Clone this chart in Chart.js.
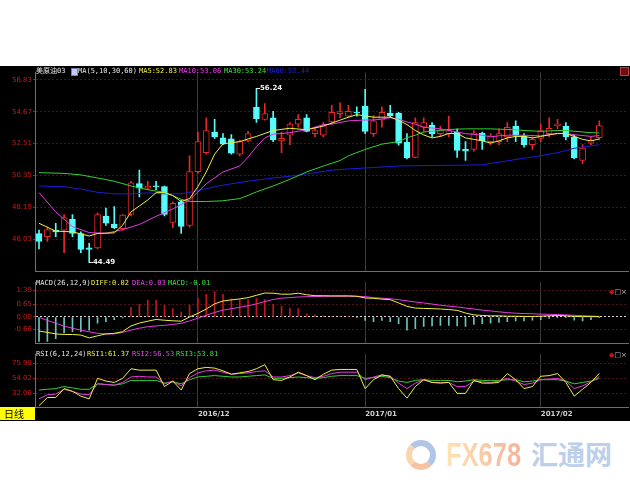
<!DOCTYPE html>
<html>
<head>
<meta charset="utf-8">
<script src="https://cdn.jsdelivr.net/npm/chart.js@4.4.0/dist/chart.umd.min.js"></script>
<style>
    html, body { margin: 0; padding: 0; background: #fff; width: 630px; height: 490px; overflow: hidden; }
    #board { position: absolute; left: 0; top: 66px; width: 630px; height: 355px; background: #000; }
    .pane { position: absolute; left: 0; width: 630px; }
    .txt { position: absolute; font-family: "DejaVu Sans Mono", "Noto Sans CJK SC", monospace; font-size: 7px; line-height: 8px; white-space: nowrap; z-index: 5; }
    .icons { position: absolute; left: 609px; font-family: "DejaVu Sans", sans-serif; font-size: 7px; line-height: 8px; z-index: 5; white-space: nowrap; }
    #dayBox { position: absolute; left: 0; top: 407px; width: 31px; height: 13px; padding-left: 4px; background: #ffff00; color: #000; font-family: "Noto Sans CJK SC", sans-serif; font-size: 10px; line-height: 13px; z-index: 5; }
    #logo .fx { position: absolute; left: 446px; top: 437px; font-family: "Liberation Sans", sans-serif; font-weight: bold; font-size: 34px; line-height: 34px; transform: scaleX(0.75); transform-origin: left top; background: linear-gradient(90deg, #fde4b4, #f6b29a); -webkit-background-clip: text; background-clip: text; color: transparent; }
    #logo .cn { position: absolute; left: 531px; top: 440px; font-family: "Noto Sans CJK SC", sans-serif; font-weight: bold; font-size: 27px; line-height: 27px; color: #bcd0ea; }
    #logo .swirl { position: absolute; left: 406px; top: 440px; width: 18px; height: 18px; border-radius: 50%; border: 6px solid; border-color: #b0c6e4 #b0c6e4 #f6c3a2 #f8d6b0; }
</style>
</head>
<body>
<div id="board"></div>

<div class="pane" style="top:67px;height:210px"><canvas id="mainChart"></canvas></div>
<div class="pane" style="top:277px;height:72px"><canvas id="macdChart"></canvas></div>
<div class="pane" style="top:349px;height:72px"><canvas id="rsiChart"></canvas></div>

<!-- panel headers -->
<span class="txt" style="left:36px;top:67px;color:#e6e6e6">美原油03</span>
<span class="txt" style="left:71px;top:68px;width:5px;height:6px;background:#c8c8ff;border:1px solid #7a7ac8"></span>
<span class="txt" style="left:78px;top:67px;color:#e6e6e6">MA(5,10,30,60)</span>
<span class="txt" style="left:139px;top:67px;color:#f0f040">MA5:52.83</span>
<span class="txt" style="left:179px;top:67px;color:#f040f0">MA10:53.06</span>
<span class="txt" style="left:224px;top:67px;color:#40e040">MA30:53.24</span>
<span class="txt" style="left:267px;top:67px;color:#2020d0">MA60:52.44</span>
<span class="txt" style="left:620px;top:67px;width:7px;height:7px;background:#6a1010;border:1px solid #c04040"></span>

<span class="txt" style="left:36px;top:279px;color:#e6e6e6">MACD(26,12,9)</span>
<span class="txt" style="left:91px;top:279px;color:#f0f040">DIFF:0.02</span>
<span class="txt" style="left:132px;top:279px;color:#f040f0">DEA:0.03</span>
<span class="txt" style="left:168px;top:279px;color:#40e040">MACD:-0.01</span>
<span class="icons" style="top:288px"><span style="color:#d01010">◆</span><span style="color:#bbb">□×</span></span>

<span class="txt" style="left:36px;top:350px;color:#e6e6e6">RSI(6,12,24)</span>
<span class="txt" style="left:87px;top:350px;color:#f0f040">RSI1:61.37</span>
<span class="txt" style="left:132px;top:350px;color:#f040f0">RSI2:56.53</span>
<span class="txt" style="left:176px;top:350px;color:#40e040">RSI3:53.81</span>
<span class="icons" style="top:351px"><span style="color:#d01010">◆</span><span style="color:#bbb">□×</span></span>

<div id="dayBox">日线</div>

<div id="logo">
    <div class="swirl"></div>
    <span class="fx">FX678</span>
    <span class="cn">汇通网</span>
</div>

<script>
// --- DATA ---
const monthIdx = [19, 39, 60];
const monthLabels = ['2016/12', '2017/01', '2017/02'];

const opens = [46.44, 46.23, 46.66, 46.66, 47.40, 46.44, 45.47, 45.47, 47.62, 47.08,
    46.76, 47.72, 49.81, 49.50, 49.65, 49.61, 47.19, 48.58, 46.98, 50.62,
    51.90, 53.30, 52.91, 52.83, 51.80, 52.70, 54.97, 54.15, 54.26, 52.70,
    53.08, 53.83, 54.26, 53.19, 53.08, 53.98, 54.53, 54.37, 54.62, 55.05,
    53.19, 54.12, 54.58, 54.58, 52.60, 51.58, 53.62, 53.77, 53.19, 53.19,
    53.30, 52.12, 52.12, 53.23, 52.65, 52.65, 52.97, 53.68, 53.04, 52.44,
    52.87, 53.19, 53.73, 53.68, 52.97, 51.37, 52.54, 52.91];
const highs = [46.67, 46.87, 47.13, 47.72, 47.72, 46.55, 45.78, 47.83, 48.15, 48.26,
    47.72, 49.97, 50.72, 49.97, 49.97, 49.65, 48.58, 48.69, 51.69, 53.30,
    54.26, 54.15, 53.19, 53.12, 52.76, 53.34, 56.24, 55.22, 54.70, 53.30,
    53.94, 54.47, 54.47, 53.62, 53.94, 55.10, 55.27, 55.10, 55.00, 56.19,
    54.40, 55.00, 55.10, 54.62, 53.19, 54.26, 54.26, 53.94, 53.70, 54.37,
    53.51, 52.65, 53.40, 53.30, 53.19, 53.51, 53.94, 54.05, 53.19, 52.97,
    53.83, 54.26, 54.15, 53.94, 53.08, 52.44, 52.97, 54.05];
const lows = [45.39, 45.91, 46.23, 45.15, 46.23, 45.15, 44.49, 45.39, 46.98, 46.76,
    46.66, 47.62, 48.91, 49.40, 49.40, 47.62, 46.83, 46.44, 46.87, 50.50,
    51.80, 52.87, 52.44, 51.80, 51.69, 52.65, 53.94, 54.10, 52.65, 51.90,
    52.44, 53.62, 53.30, 52.97, 52.97, 53.83, 54.26, 54.26, 54.37, 53.19,
    53.00, 53.62, 54.26, 52.40, 51.48, 51.54, 53.30, 52.97, 53.00, 52.97,
    51.58, 51.38, 52.00, 52.12, 52.44, 52.44, 52.65, 52.65, 52.27, 52.12,
    52.65, 52.97, 53.51, 52.76, 51.48, 51.16, 52.44, 52.76];
const closes = [45.91, 46.70, 46.55, 47.51, 46.44, 45.37, 45.37, 47.72, 47.13, 46.83,
    47.68, 49.87, 49.50, 49.65, 49.60, 47.72, 48.47, 46.91, 50.62, 52.65,
    53.40, 52.97, 52.48, 51.86, 52.65, 53.19, 54.20, 54.54, 52.76, 52.87,
    53.83, 54.15, 53.34, 53.40, 53.73, 54.62, 54.68, 54.69, 54.58, 53.34,
    54.05, 54.62, 54.40, 52.54, 51.54, 53.94, 53.94, 53.19, 53.45, 53.40,
    52.05, 52.01, 53.25, 52.70, 53.04, 53.19, 53.62, 53.08, 52.44, 52.80,
    53.40, 53.55, 53.83, 52.97, 51.54, 52.22, 52.76, 53.73];

// moving averages: [candle index, value]
const ma5 = [[0, 47.13], [2, 46.6], [4, 46.55], [6, 46.27], [7, 46.44], [9, 46.48], [10, 47.0], [11, 47.9],
    [12, 48.3], [13, 48.7], [14, 49.2], [15, 49.2], [16, 49.0], [17, 48.6], [18, 48.8], [19, 49.6],
    [20, 50.6], [21, 51.8], [22, 52.5], [24, 52.65], [26, 53.0], [28, 53.4], [30, 53.55], [32, 53.45],
    [34, 53.7], [35, 53.9], [36, 54.1], [37, 54.3], [38, 54.47], [40, 54.3], [42, 54.3], [43, 54.1],
    [44, 53.8], [45, 53.4], [46, 53.1], [47, 52.9], [48, 53.0], [49, 53.2], [50, 53.2], [51, 52.9],
    [52, 52.8], [53, 52.7], [54, 52.55], [55, 52.7], [56, 52.9], [57, 53.0], [58, 53.0], [59, 52.9],
    [60, 53.0], [61, 53.1], [62, 53.2], [63, 53.2], [64, 53.0], [65, 52.8], [66, 52.7], [67, 52.83]];
const ma10 = [[0, 49.2], [2, 47.9], [4, 46.9], [6, 46.5], [8, 46.45], [10, 46.7], [12, 47.05], [14, 47.6],
    [16, 48.1], [18, 48.7], [20, 49.8], [22, 50.6], [24, 51.0], [25, 51.6], [26, 52.3], [27, 52.9],
    [28, 53.15], [30, 53.25], [32, 53.45], [34, 53.8], [35, 53.83], [37, 54.05], [39, 54.11], [40, 54.11],
    [42, 54.26], [43, 54.15], [44, 53.98], [45, 53.83], [46, 53.62], [48, 53.51], [49, 53.4], [50, 53.3],
    [51, 53.19], [53, 53.08], [54, 52.97], [55, 53.04], [56, 53.08], [58, 53.08], [60, 53.04], [61, 53.12],
    [62, 53.19], [63, 53.19], [64, 53.12], [66, 53.0], [67, 53.06]];
const ma30 = [[0, 50.55], [3, 50.5], [5, 50.4], [7, 50.19], [9, 49.97], [11, 49.65], [13, 49.4], [15, 49.22],
    [16, 49.0], [17, 48.75], [18, 48.6], [20, 48.6], [22, 48.65], [24, 48.8], [25, 49.01], [26, 49.25],
    [28, 49.65], [30, 50.1], [32, 50.6], [34, 51.0], [36, 51.37], [37, 51.69], [39, 52.12], [41, 52.48],
    [43, 52.65], [44, 52.91], [45, 53.08], [46, 53.3], [48, 53.4], [49, 53.47], [51, 53.51], [54, 53.51],
    [57, 53.45], [58, 53.4], [60, 53.34], [62, 53.4], [63, 53.4], [65, 53.3], [66, 53.25], [67, 53.24]];
const ma60 = [[0, 49.65], [3, 49.6], [5, 49.44], [7, 49.22], [9, 49.12], [11, 49.12], [13, 49.18], [15, 49.12],
    [17, 49.12], [19, 49.33], [21, 49.6], [23, 49.8], [25, 49.97], [27, 50.12], [29, 50.25], [31, 50.38],
    [33, 50.55], [35, 50.72], [37, 50.8], [40, 50.9], [43, 51.0], [46, 51.03], [50, 51.05], [53, 51.08],
    [56, 51.35], [60, 51.7], [62, 51.9], [64, 52.2], [67, 52.44]];

const macdHist = [-1.29, -1.29, -1.14, -0.84, -0.77, -0.77, -0.69, -0.32, -0.24, -0.14,
    -0.05, 0.51, 0.66, 0.89, 0.89, 0.62, 0.44, 0.26, 0.62, 1.0,
    1.19, 1.34, 1.19, 0.96, 0.92, 0.92, 1.0, 0.92, 0.66, 0.56,
    0.47, 0.44, 0.17, 0.11, 0.06, 0.04, 0.02, 0.01, -0.01, -0.18,
    -0.25, -0.18, -0.25, -0.35, -0.69, -0.62, -0.50, -0.47, -0.44, -0.44,
    -0.47, -0.50, -0.39, -0.35, -0.32, -0.29, -0.24, -0.20, -0.20, -0.17,
    -0.14, -0.08, -0.04, -0.03, -0.17, -0.20, -0.14, -0.01];
const macdDiff = [-0.74, -0.81, -0.89, -0.92, -0.92, -0.95, -1.10, -0.99, -0.89, -0.86,
    -0.77, -0.47, -0.32, -0.22, -0.13, -0.17, -0.20, -0.22, 0.0, 0.19,
    0.42, 0.69, 0.84, 0.90, 0.95, 1.02, 1.14, 1.26, 1.25, 1.20,
    1.20, 1.25, 1.17, 1.12, 1.12, 1.11, 1.11, 1.11, 1.09, 1.0,
    0.98, 0.94, 0.91, 0.74, 0.56, 0.47, 0.45, 0.44, 0.42, 0.39,
    0.35, 0.21, 0.11, 0.08, 0.06, 0.06, 0.04, 0.04, 0.03, 0.03,
    0.04, 0.06, 0.08, 0.06, 0.03, 0.02, 0.02, 0.02];
const macdDea = [-0.02, -0.18, -0.33, -0.48, -0.59, -0.69, -0.78, -0.86, -0.89, -0.89,
    -0.81, -0.69, -0.59, -0.51, -0.47, -0.44, -0.39, -0.33, -0.21, -0.06,
    0.09, 0.24, 0.36, 0.44, 0.51, 0.59, 0.69, 0.81, 0.92, 0.99,
    1.02, 1.05, 1.07, 1.08, 1.08, 1.09, 1.09, 1.09, 1.09, 1.07,
    1.02, 0.99, 0.96, 0.91, 0.85, 0.79, 0.74, 0.68, 0.62, 0.57,
    0.53, 0.47, 0.42, 0.36, 0.32, 0.27, 0.23, 0.20, 0.18, 0.17,
    0.15, 0.14, 0.13, 0.11, 0.09, 0.07, 0.05, 0.03];

const rsi1 = [14, 26, 26, 39, 35, 28, 24, 54, 50, 48,
    54, 68, 66, 66, 66, 42, 50, 37, 61, 68,
    70, 69, 65, 60, 62, 64, 68, 74, 52, 51,
    56, 63, 58, 52, 60, 66, 67, 67, 67, 39,
    52, 59, 57, 39, 25, 42, 52, 48, 47, 48,
    32, 32, 51, 47, 47, 48, 61, 52, 39, 42,
    57, 58, 61, 48, 28, 38, 48, 61.37];
const rsi2 = [24, 30, 31, 38, 35, 31, 30, 46, 45, 44,
    48, 56, 57, 56, 56, 46, 50, 43, 55, 62,
    65, 66, 63, 60, 61, 62, 64, 65, 56, 56,
    58, 62, 58, 55, 57, 61, 63, 63, 63, 52,
    56, 59, 57, 47, 39, 47, 52, 48, 48, 48,
    42, 42, 50, 49, 48, 50, 54, 50, 45, 47,
    52, 53, 54, 50, 39, 43, 49, 56.53];
const rsi3 = [37, 38, 39, 42, 40, 38, 38, 46, 45, 44,
    46, 51, 51, 51, 51, 47, 49, 46, 52, 56,
    57, 58, 57, 56, 56, 57, 58, 59, 54, 54,
    55, 56, 55, 54, 55, 57, 58, 58, 58, 54,
    55, 57, 55, 50, 48, 51, 52, 51, 51, 51,
    49, 50, 52, 51, 51, 51, 52, 52, 49, 50,
    52, 52, 52, 50, 46, 48, 50, 53.81];

const mainTicks = [56.83, 54.67, 52.51, 50.35, 48.19, 46.03];
const macdTicks = [1.39, 0.65, 0.00, -0.66];
const rsiTicks = [75.98, 54.02, 32.06];

// extreme price labels
const extremes = [{ i: 26, v: 56.24 }, { i: 6, v: 44.49 }];

// --- STYLE / SCALES ---
const RED = '#e62828';
const CYAN = '#54fcfc';
const X_MIN = -0.48, X_MAX = 70.43;

Chart.defaults.font.family = '"DejaVu Sans", sans-serif';
Chart.defaults.animation = false;

function xScale(showLabels) {
    return {
        type: 'linear', min: X_MIN, max: X_MAX, offset: false,
        afterBuildTicks: s => { s.ticks = monthIdx.map(v => ({ value: v })); },
        afterFit: s => { s.height = showLabels ? 14 : 0; },
        grid: { color: '#3c3c3c', drawTicks: false, offset: false },
        border: { display: true, color: '#707070' },
        ticks: {
            display: showLabels, autoSkip: false, maxRotation: 0, align: 'start', padding: 3,
            color: '#cfcfcf', font: { size: 7, weight: 'bold' },
            callback: v => monthLabels[monthIdx.indexOf(v)]
        }
    };
}

function yScale(min, max, ticks, zeroWhite) {
    return {
        position: 'left', min: min, max: max,
        afterBuildTicks: s => { s.ticks = ticks.map(v => ({ value: v })); },
        afterFit: s => { s.width = 35; },
        grid: {
            color: c => (zeroWhite && c.tick && c.tick.value === 0) ? '#d8d8d8' : '#4e1212',
            tickLength: 2, tickColor: '#b01414'
        },
        border: { color: '#707070', dash: [2, 2] },
        ticks: { color: '#c81c1c', padding: 1, font: { size: 7 }, callback: v => v.toFixed(2) }
    };
}

const baseOptions = {
    responsive: true,
    maintainAspectRatio: false,
    events: [],
    layout: { padding: { right: 2 } },
    plugins: { legend: { display: false }, tooltip: { enabled: false } }
};

const toPts = arr => arr.map(p => ({ x: p[0], y: p[1] }));
const series = arr => arr.map((v, i) => ({ x: i, y: v }));
const lineDs = (data, color, order) => ({
    type: 'line', data: data, borderColor: color, borderWidth: 1,
    pointRadius: 0, tension: 0, order: order
});

// --- MAIN (candles + MA) ---
const candleUp = closes.map((c, i) => c >= opens[i]);

const extremeLabels = {
    id: 'extremeLabels',
    afterDatasetsDraw(chart) {
        const { ctx, scales: { x, y } } = chart;
        ctx.save();
        ctx.strokeStyle = '#eeeeee';
        ctx.fillStyle = '#f2f2f2';
        ctx.lineWidth = 1;
        ctx.font = 'bold 7px "DejaVu Sans"';
        ctx.textBaseline = 'middle';
        extremes.forEach(e => {
            const px = Math.round(x.getPixelForValue(e.i));
            const py = Math.round(y.getPixelForValue(e.v)) + 0.5;
            ctx.beginPath();
            ctx.moveTo(px, py);
            ctx.lineTo(px + 4, py);
            ctx.stroke();
            ctx.fillText(e.v.toFixed(2), px + 4, py);
        });
        ctx.restore();
    }
};

new Chart(document.getElementById('mainChart'), {
    type: 'line',
    data: {
        datasets: [
            lineDs(toPts(ma5), '#f0f040', 0),
            lineDs(toPts(ma10), '#e43ce4', 0),
            lineDs(toPts(ma30), '#34d034', 0),
            lineDs(toPts(ma60), '#1c1cd8', 0),
            {
                type: 'bar', order: 1, grouped: false,
                data: opens.map((o, i) => ({ x: i, y: [o, closes[i]] })),
                barThickness: 6, minBarLength: 1, borderWidth: 1, borderSkipped: false,
                backgroundColor: candleUp.map(u => u ? '#000000' : CYAN),
                borderColor: candleUp.map(u => u ? RED : CYAN)
            },
            {
                type: 'bar', order: 2, grouped: false,
                data: lows.map((l, i) => ({ x: i, y: [l, highs[i]] })),
                barThickness: 1,
                backgroundColor: candleUp.map(u => u ? RED : CYAN)
            }
        ]
    },
    options: Object.assign({}, baseOptions, {
        scales: { x: xScale(false), y: yScale(43.85, 57.34, mainTicks, false) }
    }),
    plugins: [extremeLabels]
});

// --- MACD ---
new Chart(document.getElementById('macdChart'), {
    type: 'line',
    data: {
        datasets: [
            lineDs(series(macdDiff), '#f0f040', 0),
            lineDs(series(macdDea), '#e43ce4', 0),
            {
                type: 'bar', order: 1, grouped: false, barThickness: 1,
                data: series(macdHist),
                backgroundColor: macdHist.map(v => v >= 0 ? '#c01818' : '#6cc4bc')
            }
        ]
    },
    options: Object.assign({}, baseOptions, {
        scales: { x: xScale(false), y: yScale(-1.41, 1.83, macdTicks, true) }
    })
});

// --- RSI ---
new Chart(document.getElementById('rsiChart'), {
    type: 'line',
    data: {
        datasets: [
            lineDs(series(rsi3), '#34d034', 2),
            lineDs(series(rsi2), '#e43ce4', 1),
            lineDs(series(rsi1), '#f0f040', 0)
        ]
    },
    options: Object.assign({}, baseOptions, {
        scales: { x: xScale(true), y: yScale(12.1, 89.3, rsiTicks, false) }
    })
});
</script>
</body>
</html>
